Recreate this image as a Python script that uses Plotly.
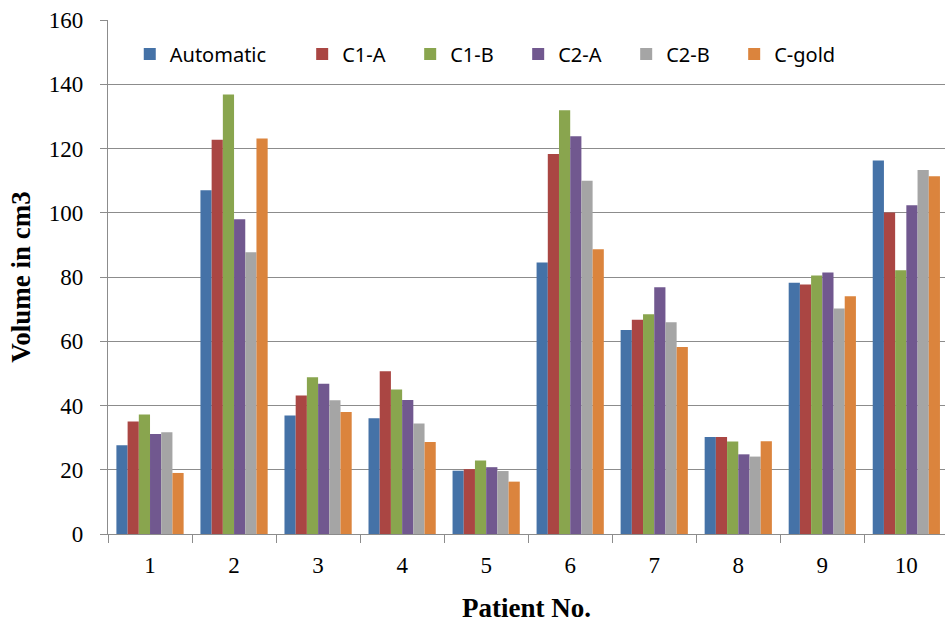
import plotly.graph_objects as go

# Patient numbers on the category axis
patients = ["1", "2", "3", "4", "5", "6", "7", "8", "9", "10"]

# Measured volumes (cm3) per segmentation method
automatic = [27.6, 107.0, 36.9, 36.0, 19.7, 84.5, 63.5, 30.2, 78.2, 116.3]
c1_a = [35.0, 122.7, 43.1, 50.7, 20.2, 118.3, 66.7, 30.2, 77.7, 100.1]
c1_b = [37.2, 136.8, 48.8, 45.0, 22.9, 131.9, 68.4, 28.8, 80.5, 82.1]
c2_a = [31.1, 98.0, 46.8, 41.7, 20.8, 123.8, 76.8, 24.8, 81.4, 102.3]
c2_b = [31.7, 87.7, 41.6, 34.4, 19.6, 110.0, 65.9, 24.1, 70.2, 113.3]
c_gold = [19.0, 123.1, 38.0, 28.6, 16.3, 88.6, 58.2, 28.9, 74.0, 111.4]

series = [
    ("Automatic", automatic, "#4572A7", "legend"),
    ("C1-A", c1_a, "#AA4643", "legend2"),
    ("C1-B", c1_b, "#89A54E", "legend2"),
    ("C2-A", c2_a, "#71588F", "legend2"),
    ("C2-B", c2_b, "#A5A5A5", "legend2"),
    ("C-gold", c_gold, "#DB843D", "legend2"),
]

fig = go.Figure()
for name, vals, color, leg in series:
    fig.add_trace(go.Bar(
        x=patients, y=vals, name=name,
        marker=dict(color=color, line=dict(width=0)),
        legend=leg, showlegend=True,
    ))

grid = "#8C8C8C"
serif = "Liberation Serif, Times New Roman, serif"
legend_font = dict(family="Noto Sans, Liberation Sans, sans-serif", size=20, color="#000000")

fig.update_layout(
    width=945, height=623,
    margin=dict(l=108, r=0, t=20, b=89),
    paper_bgcolor="white", plot_bgcolor="white",
    showlegend=True,
    barmode="group", bargap=0.2, bargroupgap=0,
    font=dict(family=serif, size=23, color="#000000"),
    legend=dict(
        orientation="h", x=0.026, xanchor="left", y=0.934, yanchor="middle",
        font=legend_font, bgcolor="rgba(255,255,255,0)", visible=True,
    ),
    legend2=dict(
        orientation="h", x=0.232, xanchor="left", y=0.934, yanchor="middle",
        font=legend_font, bgcolor="rgba(255,255,255,0)", visible=True,
        entrywidth=63, entrywidthmode="pixels",
    ),
    xaxis=dict(
        type="category", range=[-0.5, 9.46], automargin=False,
        showline=True, linecolor=grid, linewidth=1.3,
        ticks="outside", ticklen=8, tickcolor=grid, tickwidth=1.3,
        tickson="boundaries", ticklabelstandoff=10,
        showgrid=False, zeroline=False,
        title=dict(text="Patient No.", font=dict(family=serif, size=27, weight="bold"), standoff=33),
    ),
    yaxis=dict(
        range=[0, 160], dtick=20, automargin=False,
        showline=True, linecolor=grid, linewidth=1.3,
        ticks="outside", ticklen=7, tickcolor=grid, tickwidth=1.3,
        showgrid=True, gridcolor=grid, gridwidth=1.3,
        zeroline=False, ticklabelstandoff=12,
        title=dict(text="Volume in cm3", font=dict(family=serif, size=27, weight="bold"), standoff=10),
    ),
)

fig.write_html("out.html")
